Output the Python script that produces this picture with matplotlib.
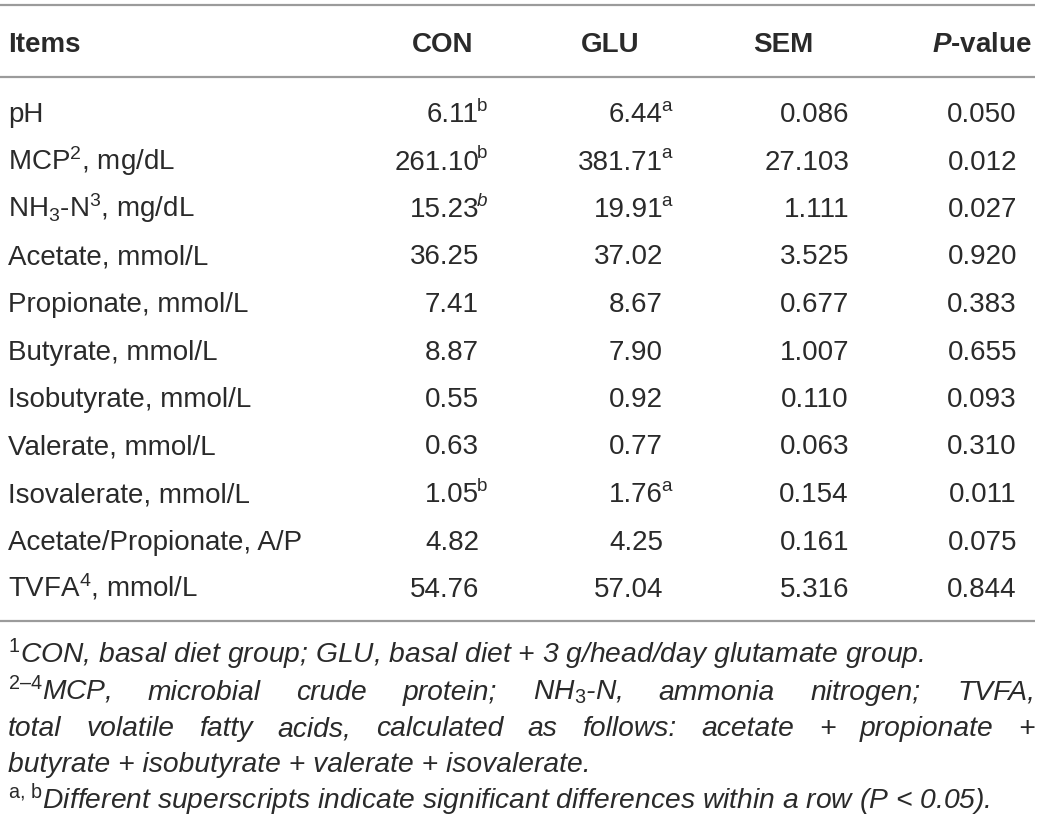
import matplotlib
matplotlib.use("Agg")
import matplotlib.pyplot as plt

FONT = "Liberation Sans"
plt.rcParams.update({
    "font.family": [FONT, "DejaVu Sans"],
    "mathtext.fontset": "custom",
    "mathtext.rm": FONT,
    "mathtext.it": FONT + ":italic",
    "mathtext.bf": FONT + ":bold",
    "mathtext.bfit": FONT + ":italic:bold",
    "mathtext.sf": FONT,
    "mathtext.default": "regular",
})

# ---------------- data ----------------
headers = ["Items", "CON", "GLU", "SEM", r"$\mathbfit{P}$-value"]
items = ["pH", r"MCP$^{\mathrm{2}}$, mg/dL", r"NH$_{\mathrm{3}}$-N$^{\mathrm{3}}$, mg/dL",
         "Acetate, mmol/L", "Propionate, mmol/L", "Butyrate, mmol/L",
         "Isobutyrate, mmol/L", "Valerate, mmol/L", "Isovalerate, mmol/L",
         "Acetate/Propionate, A/P", r"TVFA$^{\mathrm{4}}$, mmol/L"]
con = ["6.11", "261.10", "15.23", "36.25", "7.41", "8.87", "0.55", "0.63",
       "1.05", "4.82", "54.76"]
con_sup = ["b", "b", "*b", "", "", "", "", "", "b", "", ""]
glu = ["6.44", "381.71", "19.91", "37.02", "8.67", "7.90", "0.92", "0.77",
       "1.76", "4.25", "57.04"]
glu_sup = ["a", "a", "a", "", "", "", "", "", "a", "", ""]
sem = ["0.086", "27.103", "1.111", "3.525", "0.677", "1.007", "0.110",
       "0.063", "0.154", "0.161", "5.316"]
pval = ["0.050", "0.012", "0.027", "0.920", "0.383", "0.655", "0.093",
        "0.310", "0.011", "0.075", "0.844"]
footnotes = [
    (r"$^{\mathrm{1}}$CON, basal diet group; GLU, basal diet + 3 g/head/day glutamate group.", False),
    ("$^{\\mathrm{2\u20134}}$MCP, microbial crude protein; NH$_{\\mathrm{3}}$-N, ammonia nitrogen; TVFA,", True),
    ("total volatile fatty acids, calculated as follows: acetate + propionate +", True),
    ("butyrate + isobutyrate + valerate + isovalerate.", False),
    (r"$^{\mathrm{a,\,b}}$Different superscripts indicate significant differences within a row (P < 0.05).", False),
]

# ---------------- style ----------------
TXT = "#2a2a2a"
LINEC = "#9b9b9b"
MAIN = 20.0
FOOT = 20.3

fig = plt.figure(figsize=(10.4, 8.25), dpi=100)
ax = fig.add_axes([0, 0, 1, 1])
ax.set_xlim(0, 1040)
ax.set_ylim(825, 0)
ax.axis("off")
renderer = fig.canvas.get_renderer()


def txt(x, y, s, size=MAIN, **kw):
    kw.setdefault("color", TXT)
    kw.setdefault("va", "baseline")
    return ax.text(x, y, s, fontsize=size, **kw)


def justified(x0, x1, y, s, size, style):
    words = s.split(" ")
    objs = [txt(0, y, w, size, fontstyle=style) for w in words]
    widths = [o.get_window_extent(renderer).width for o in objs]
    gap = (x1 - x0 - sum(widths)) / (len(words) - 1)
    x = x0
    for o, w in zip(objs, widths):
        o.set_x(x)
        x += w + gap


# ---------------- layout ----------------
LEFT = 8
col_right = [479, 663, 849, 1017]
head_center = [443, 610, 783, 982]
y_head = 52
y0, dy = 122, 47.5

for yl in (5, 77, 621):
    ax.plot([0, 1035], [yl, yl], color=LINEC, lw=1.6, solid_capstyle="butt")

txt(LEFT, y_head, headers[0], fontweight="bold")
for h, xc in zip(headers[1:], head_center):
    txt(xc, y_head, h, fontweight="bold", ha="center")

sup_dy = MAIN * 100 / 72 * 0.40
for i, item in enumerate(items):
    y = y0 + i * dy
    txt(LEFT, y, item)
    for vals, sups, xr in ((con, con_sup, col_right[0]), (glu, glu_sup, col_right[1]),
                           (sem, None, col_right[2]), (pval, None, col_right[3])):
        txt(xr, y, vals[i], ha="right")
        if sups is not None and sups[i]:
            sp = sups[i]
            txt(xr - 2, y - sup_dy, sp.lstrip("*"), MAIN * 0.68,
                fontstyle="italic" if sp.startswith("*") else "normal")

fy0, fdy = 663, 36.5
for j, (fn, just) in enumerate(footnotes):
    y = fy0 + j * fdy
    if just:
        justified(LEFT, 1035, y, fn, FOOT, "italic")
    else:
        txt(LEFT, y, fn, FOOT, fontstyle="italic")

fig.savefig("out.png", dpi=100, facecolor="white")
